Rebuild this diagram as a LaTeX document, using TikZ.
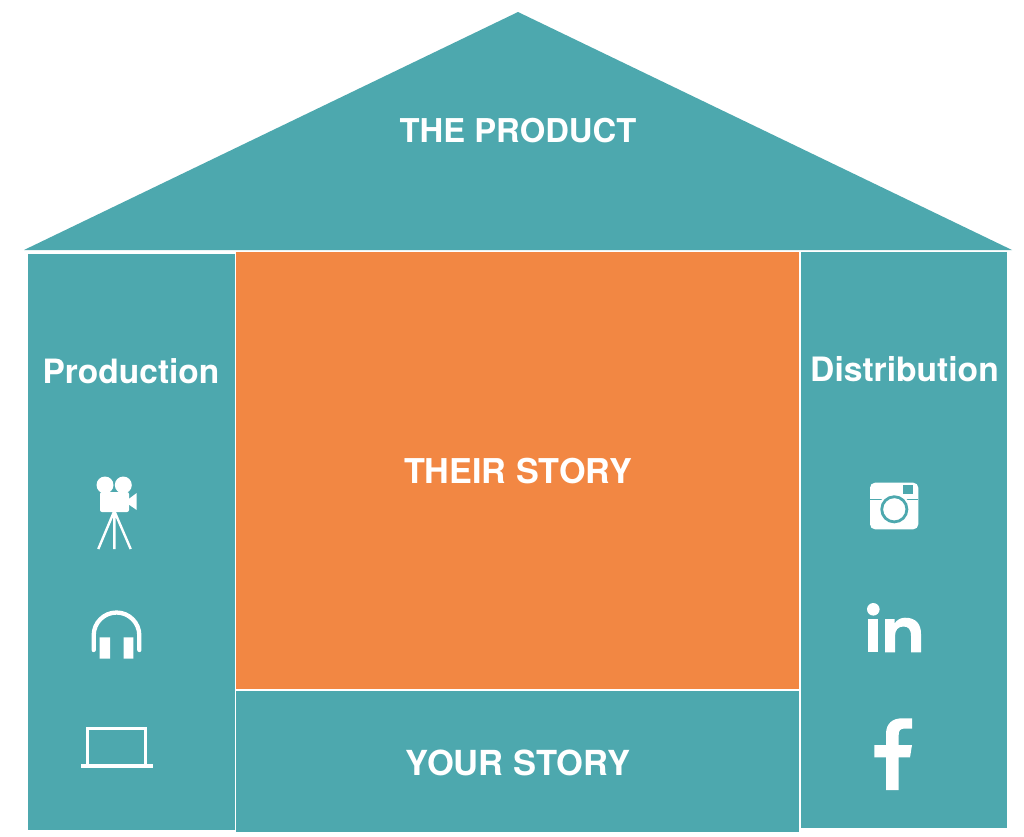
\documentclass[tikz,border=0pt]{standalone}
\usepackage{fontspec}
\setmainfont{TeX Gyre Heros}
\definecolor{teal1}{HTML}{4DA8AE}
\definecolor{orange1}{HTML}{F28743}
\tikzset{
  panel/.style={fill=teal1,draw=none},
  textlabel/.style={text=white,font=\bfseries\fontsize{#1}{36}\selectfont,inner sep=0pt,anchor=center},
  textlabel/.default=34,
  iconfill/.style={fill=white,draw=none},
  iconline/.style={draw=white,line width=3pt}
}
\begin{document}
\begin{tikzpicture}[x=1pt,y=-1pt]
\useasboundingbox (0,0) rectangle (1024,836);
\fill[white] (0,0) rectangle (1024,836);
\fill[panel] (518,12) -- (1012,250) -- (24,250) -- cycle;
\fill[panel] (28,254) rectangle (235,830);
\fill[panel] (801,252) rectangle (1007,828);
\fill[orange1] (236,252) rectangle (799,689);
\fill[panel] (236,691) rectangle (799,832);
\node[textlabel=32.8] (product) at (518,131) {THE PRODUCT};
\node[textlabel=34.2] (their) at (518,471) {THEIR STORY};
\node[textlabel=34.5] (your) at (518,763) {YOUR STORY};
\node[textlabel=33.5] (prod) at (131,371) {Production};
\node[textlabel=33.6] (dist) at (904.5,369) {Distribution};
% camera
\fill[iconfill] (105,485) circle (8.5) (123.3,485) circle (8.5);
\fill[iconfill,rounded corners=2pt] (100,492) rectangle (129,512);
\fill[iconfill] (128,499.5) -- (136.7,493) -- (136.7,510) -- (128,504) -- cycle;
\draw[iconline,line width=2.4pt] (98.3,549) -- (114.3,511) -- (130.7,549) (114.3,511) -- (114.3,549);
% headphones
\draw[iconline,line width=4.3pt,line cap=round] (93.7,650) -- (93.7,635.3) arc[start angle=180,end angle=360,radius=22.8] -- (139.3,650);
\fill[iconfill] (99.7,637.3) rectangle (110,658.7) (123.7,637.3) rectangle (133.3,658.7);
% laptop
\draw[iconline] (87.2,765) -- (87.2,728.8) -- (145.8,728.8) -- (145.8,765);
\fill[iconfill] (80.7,763.7) rectangle (152.7,767.7);
% instagram
\fill[iconfill,rounded corners=5pt] (870,482.7) rectangle (918.3,529.3);
\draw[teal1,line width=1.5pt] (870,499.5) -- (918.3,499.5);
\fill[iconfill] (894.3,509.3) circle (16);
\draw[teal1,line width=2.8pt] (894.3,509.3) circle (12.6);
\fill[teal1] (903.3,485) rectangle (912.7,494);
% in
\fill[iconfill] (873.3,609.3) circle (6.3);
\fill[iconfill] (868.3,619) rectangle (878.3,652.3);
\fill[iconfill] (885,652.3) -- (885,619) -- (894.6,619) -- (894.6,623.5)
  .. controls (897,619.5) and (901,617.7) .. (905,617.7)
  .. controls (916,617.7) and (921,624) .. (921,634) -- (921,652.3) -- (911,652.3) -- (911,636)
  .. controls (911,629) and (908,626.5) .. (903.5,626.5)
  .. controls (898,626.5) and (895,630) .. (895,636) -- (895,652.3) -- cycle;
% f
\fill[iconfill] (886,790) -- (886,757.3) -- (874.3,757.3) -- (874.3,745) -- (886,745) -- (886,734)
  .. controls (886,723) and (893,718.3) .. (902,718.3) -- (912,718.3) -- (912,728.5) -- (905,728.5)
  .. controls (900,728.5) and (898.7,730.5) .. (898.7,735) -- (898.7,745) -- (912,745) -- (910,757.3) -- (898.7,757.3) -- (898.7,790) -- cycle;
\end{tikzpicture}
\end{document}
